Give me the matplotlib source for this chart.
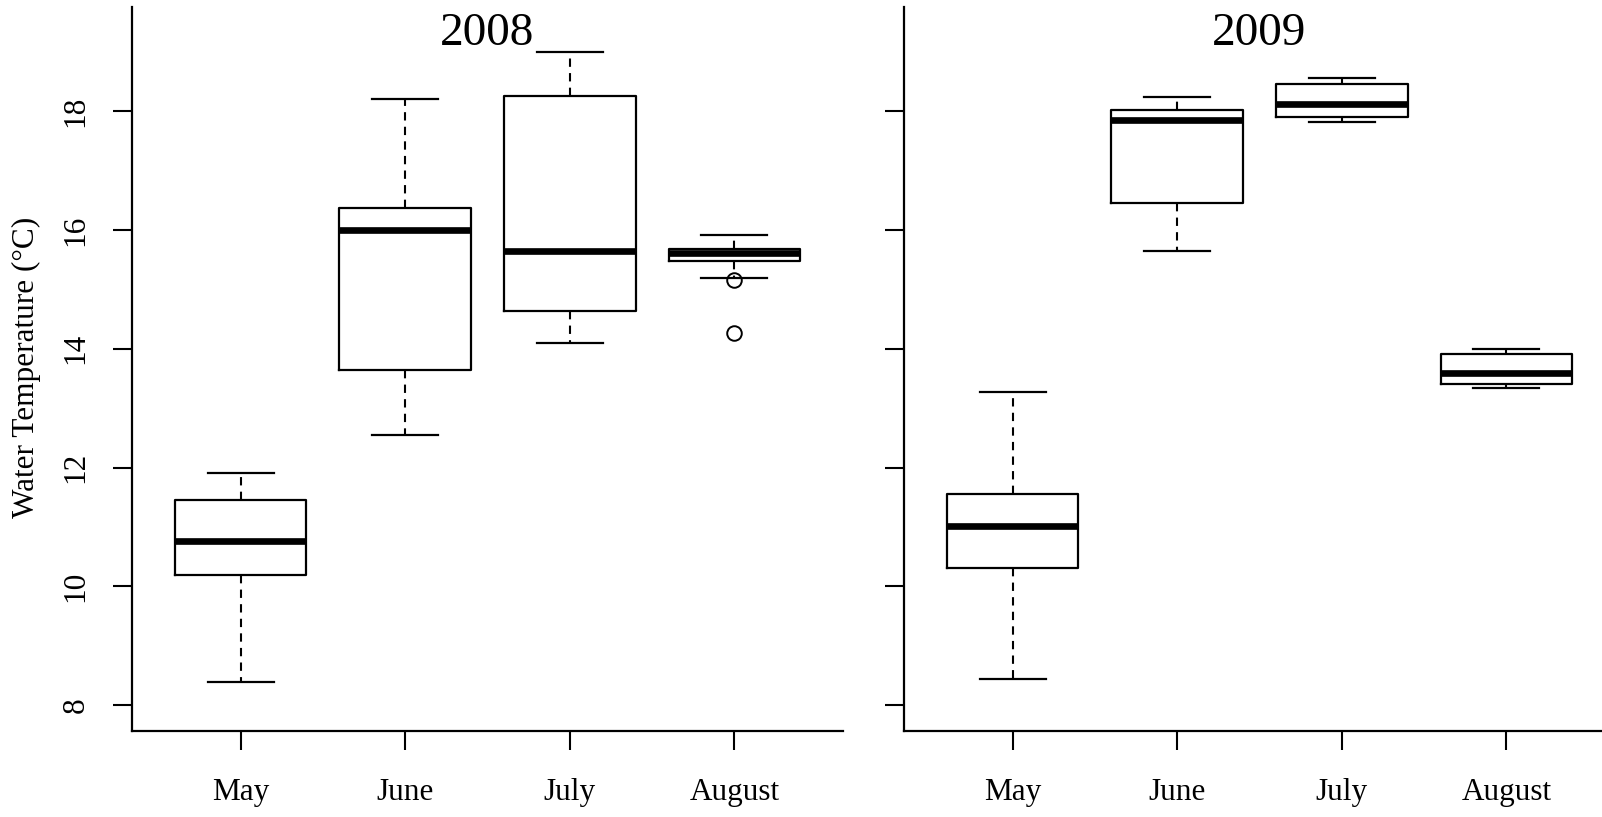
import matplotlib
matplotlib.use("Agg")
import matplotlib.pyplot as plt
import matplotlib.transforms as mtransforms

# Monthly water temperature summaries (°C): whisker low, Q1, median, Q3, whisker high
months = ["May", "June", "July", "August"]

low_2008 = [8.38, 12.55, 14.09, 15.20]
q1_2008 = [10.19, 13.65, 14.63, 15.48]
med_2008 = [10.76, 16.00, 15.65, 15.61]
q3_2008 = [11.46, 16.38, 18.26, 15.69]
high_2008 = [11.91, 18.21, 19.00, 15.92]
fliers_2008 = [[], [], [], [15.16, 14.27]]

low_2009 = [8.43, 15.65, 17.82, 13.34]
q1_2009 = [10.31, 16.46, 17.91, 13.41]
med_2009 = [11.01, 17.85, 18.12, 13.59]
q3_2009 = [11.56, 18.03, 18.47, 13.92]
high_2009 = [13.28, 18.25, 18.56, 13.99]
fliers_2009 = [[], [], [], []]

years = ["2008", "2009"]
yticks = [8, 10, 12, 14, 16, 18]

plt.rcParams["font.family"] = ["Liberation Serif", "DejaVu Serif"]

W, H, DPI = 1602, 817, 100
fig = plt.figure(figsize=(W / DPI, H / DPI), dpi=DPI)
fig.patch.set_facecolor("white")

ax_w = (843 - 132) / W
ax_h = (731 - 7) / H
ax_y0 = (H - 731) / H
ax_left = fig.add_axes([132 / W, ax_y0, ax_w, ax_h])
ax_right = fig.add_axes([904 / W, ax_y0, ax_w, ax_h])


def make_stats(lo, q1, med, q3, hi, fl):
    return [
        dict(whislo=a, q1=b, med=c, q3=d, whishi=e, fliers=f, label=m)
        for a, b, c, d, e, f, m in zip(lo, q1, med, q3, hi, fl, months)
    ]


panels = [
    (ax_left, make_stats(low_2008, q1_2008, med_2008, q3_2008, high_2008, fliers_2008), years[0]),
    (ax_right, make_stats(low_2009, q1_2009, med_2009, q3_2009, high_2009, fliers_2009), years[1]),
]

for ax, stats, year in panels:
    ax.bxp(
        stats,
        positions=[1, 2, 3, 4],
        widths=0.8,
        showfliers=True,
        boxprops=dict(color="black", linewidth=1.6),
        medianprops=dict(color="black", linewidth=4.8, solid_capstyle="butt"),
        whiskerprops=dict(color="black", linewidth=1.5, linestyle=(0, (4, 3))),
        capprops=dict(color="black", linewidth=1.6),
        capwidths=0.4,
        flierprops=dict(marker="o", markerfacecolor="none", markeredgecolor="black",
                        markersize=10.5, markeredgewidth=1.4, linestyle="none"),
    )
    ax.set_xlim(0.34, 4.66)
    ax.set_ylim(7.56, 19.76)
    ax.set_xticks([1, 2, 3, 4])
    ax.set_xticklabels(months, fontsize=22.5)
    ax.set_yticks(yticks)
    for side in ("top", "right"):
        ax.spines[side].set_visible(False)
    for side in ("left", "bottom"):
        ax.spines[side].set_linewidth(1.6)
    ax.tick_params(axis="both", direction="out", length=14, width=1.5, colors="black")
    ax.tick_params(axis="x", pad=20)
    ax.tick_params(axis="y", pad=16)
    trans = mtransforms.blended_transform_factory(ax.transAxes, fig.transFigure)
    ax.text(0.5, 1 - 45 / H, year, transform=trans, ha="center", va="baseline",
            fontsize=34)

ax_left.set_yticklabels([str(t) for t in yticks], fontsize=22.5, rotation=90, va="center")
ax_right.set_yticklabels([])
fig.text(26 / W, 1 - 367 / H, "Water Temperature (°C)", rotation=90,
         ha="center", va="center", fontsize=22.5)

fig.savefig("out.png", dpi=DPI, facecolor="white")
